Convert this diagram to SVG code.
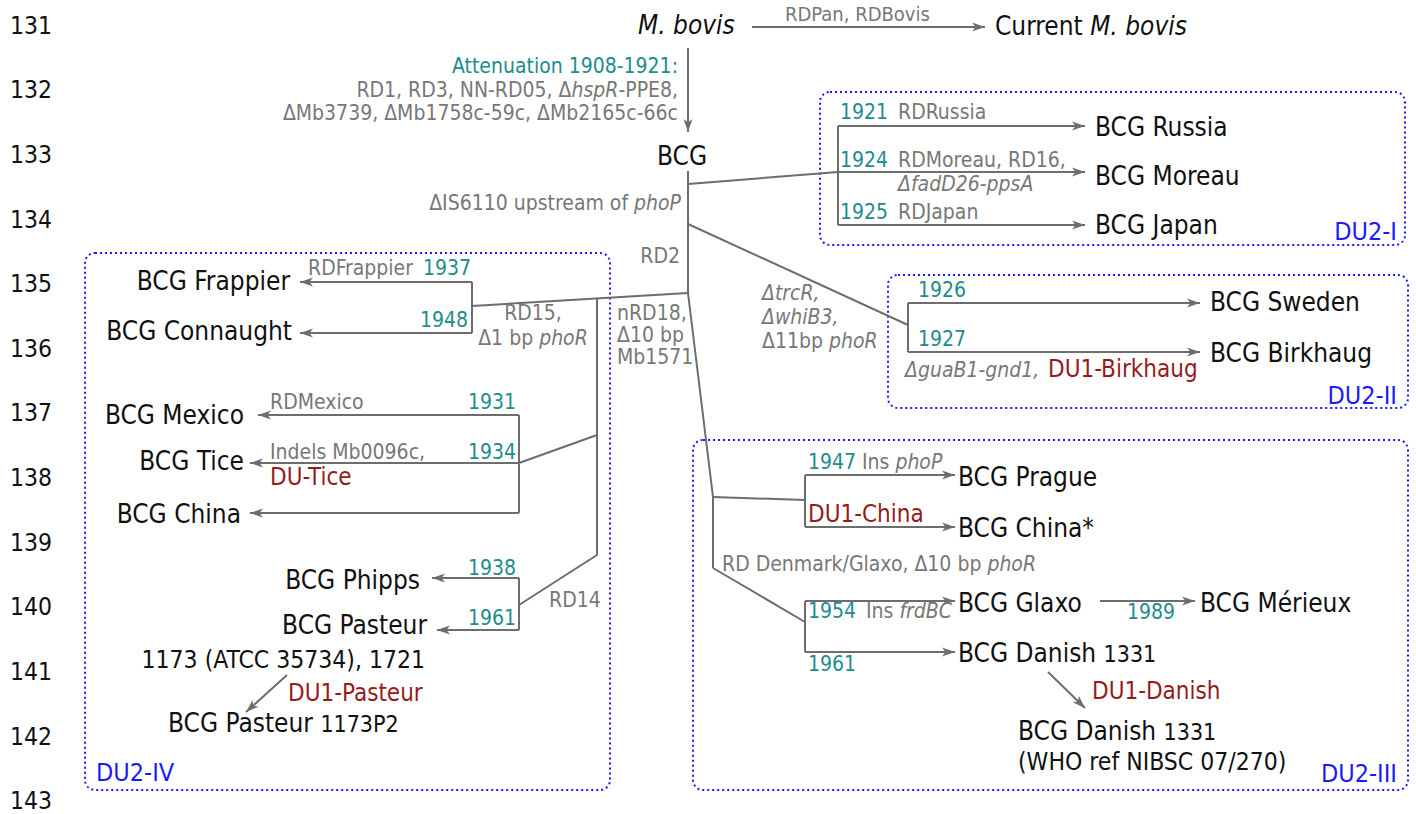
<svg xmlns="http://www.w3.org/2000/svg" width="1416" height="814" viewBox="0 0 1416 814">
<defs>
<marker id="ah" markerUnits="userSpaceOnUse" markerWidth="14" markerHeight="10" refX="13" refY="5" orient="auto">
<path d="M0,0.5 L13,5 L0,9.5 L3.5,5 z" fill="#6d6d6d"/>
</marker>
<style>
text{font-family:'DejaVu Sans Condensed','DejaVu Sans',sans-serif}
.n{font-size:26px;fill:#111}
.s{font-size:24.5px;fill:#111}
.sm{font-size:23px}
.g{font-size:21px;fill:#777}
.t{font-size:21px;fill:#208c8c}
.r{font-size:24px;fill:#951b1b}
.b{font-size:25px;fill:#1a1aff}
.ln{font-family:'Liberation Sans',Arial,sans-serif;font-size:24.5px;fill:#111}
.e{text-anchor:end}
.m{text-anchor:middle}
.i{font-style:italic}
.c path{fill:none;stroke:#6d6d6d;stroke-width:2}
.a{marker-end:url(#ah)}
.box{fill:none;stroke:#1a1aff;stroke-width:2;stroke-dasharray:2 3}
</style>
</defs>
<rect width="1416" height="814" fill="#fff"/>
<g id="line-numbers" class="ln">
<text x="10" y="34">131</text><text x="10" y="98">132</text><text x="10" y="163">133</text><text x="10" y="228">134</text><text x="10" y="292">135</text><text x="10" y="357">136</text><text x="10" y="421">137</text><text x="10" y="486">138</text><text x="10" y="551">139</text><text x="10" y="615">140</text><text x="10" y="680">141</text><text x="10" y="745">142</text><text x="10" y="809">143</text>
</g>
<g id="groups">
<rect id="DU2-I" class="box" x="820" y="92" width="585" height="153" rx="10"/>
<rect id="DU2-II" class="box" x="888" y="275" width="520" height="133" rx="10"/>
<rect id="DU2-III" class="box" x="693" y="440" width="715" height="350" rx="10"/>
<rect id="DU2-IV" class="box" x="85" y="253" width="525" height="537" rx="10"/>
<text class="b e" x="1397" y="240">DU2-I</text>
<text class="b e" x="1397" y="404">DU2-II</text>
<text class="b e" x="1397" y="782">DU2-III</text>
<text class="b" x="96" y="781">DU2-IV</text>
</g>
<g id="connectors" class="c">
<path class="a" d="M752,27 H985"/>
<path class="a" d="M688,48 V132"/>
<path d="M688,171 V293 L713,497 V568"/>
<path d="M688,184 L838,172"/>
<path d="M838,126 V225"/>
<path class="a" d="M838,126 H1085"/>
<path class="a" d="M838,172 H1085"/>
<path class="a" d="M838,225 H1085"/>
<path d="M688,224 L908,325"/>
<path d="M908,303 V352"/>
<path class="a" d="M908,303 H1200"/>
<path class="a" d="M908,352 H1200"/>
<path d="M688,293 L472,306"/>
<path d="M472,282 V333"/>
<path class="a" d="M472,282 H300"/>
<path class="a" d="M472,333 H300"/>
<path d="M597,298 V555"/>
<path d="M597,435 L519,463"/>
<path d="M519,415 V513"/>
<path class="a" d="M519,415 H258"/>
<path class="a" d="M519,463 H250"/>
<path class="a" d="M519,513 H250"/>
<path d="M597,555 L519,605"/>
<path d="M519,578 V630"/>
<path class="a" d="M519,578 H432"/>
<path class="a" d="M519,630 H437"/>
<path class="a" d="M287,675 L246,712"/>
<path d="M713,497 L805,500"/>
<path d="M805,475 V527"/>
<path class="a" d="M805,475 H955"/>
<path class="a" d="M805,527 H955"/>
<path d="M713,568 L805,622"/>
<path d="M805,601 V652"/>
<path class="a" d="M805,601 H955"/>
<path class="a" d="M805,652 H955"/>
<path class="a" d="M1100,601 H1195"/>
<path class="a" d="M1048,672 L1085,708"/>
</g>
<g id="labels">
<text class="g" x="785" y="21" style="font-size:20px">RDPan, RDBovis</text>
<text class="t e" x="678" y="73">Attenuation 1908-1921:</text>
<text class="g e" x="678" y="97">RD1, RD3, NN-RD05, Δ<tspan class="i">hspR</tspan>-PPE8,</text>
<text class="g e" x="678" y="120">ΔMb3739, ΔMb1758c-59c, ΔMb2165c-66c</text>
<text class="g e" x="681" y="210">ΔIS6110 upstream of <tspan class="i">phoP</tspan></text>
<text class="g e" x="680" y="263">RD2</text>
<text class="t" x="840" y="119">1921</text><text class="g" x="898" y="119">RDRussia</text>
<text class="t" x="840" y="167">1924</text><text class="g" x="898" y="167">RDMoreau, RD16,</text>
<text class="g i" x="898" y="191">ΔfadD26-ppsA</text>
<text class="t" x="840" y="219">1925</text><text class="g" x="898" y="219">RDJapan</text>
<text class="g i" x="762" y="300">ΔtrcR,</text>
<text class="g i" x="762" y="324">ΔwhiB3,</text>
<text class="g" x="762" y="348">Δ11bp <tspan class="i">phoR</tspan></text>
<text class="t" x="918" y="297">1926</text>
<text class="t" x="918" y="346">1927</text>
<text class="g i" x="905" y="377">ΔguaB1-gnd1,</text>
<text class="r" x="1048" y="377">DU1-Birkhaug</text>
<text class="g" x="308" y="275">RDFrappier</text><text class="t e" x="471" y="275">1937</text>
<text class="t e" x="468" y="327">1948</text>
<text class="g m" x="533" y="320">RD15,</text>
<text class="g m" x="533" y="345">Δ1 bp <tspan class="i">phoR</tspan></text>
<text class="g" x="617" y="320">nRD18,</text>
<text class="g" x="617" y="342">Δ10 bp</text>
<text class="g" x="617" y="364">Mb1571</text>
<text class="g" x="270" y="409">RDMexico</text><text class="t e" x="516" y="409">1931</text>
<text class="g" x="270" y="459">Indels Mb0096c,</text><text class="t e" x="516" y="459">1934</text>
<text class="r" x="270" y="485">DU-Tice</text>
<text class="t e" x="516" y="575">1938</text>
<text class="t e" x="516" y="625">1961</text>
<text class="g" x="549" y="607">RD14</text>
<text class="r" x="288" y="701">DU1-Pasteur</text>
<text class="t" x="808" y="469">1947</text><text class="g" x="862" y="469">Ins <tspan class="i">phoP</tspan></text>
<text class="r" x="808" y="522">DU1-China</text>
<text class="g" x="722" y="571">RD Denmark/Glaxo, Δ10 bp <tspan class="i">phoR</tspan></text>
<text class="t" x="808" y="618">1954</text><text class="g" x="866" y="618">Ins <tspan class="i">frdBC</tspan></text>
<text class="t" x="1127" y="619">1989</text>
<text class="t" x="808" y="671">1961</text>
<text class="r" x="1092" y="699">DU1-Danish</text>
</g>
<g id="n-mbovis"><text class="n i" x="638" y="34">M. bovis</text></g>
<g id="n-current"><text class="n" x="995" y="35">Current <tspan class="i">M. bovis</tspan></text></g>
<g id="n-bcg"><text class="n" x="657" y="165">BCG</text></g>
<g id="n-russia"><text class="n" x="1095" y="136">BCG Russia</text></g>
<g id="n-moreau"><text class="n" x="1095" y="185">BCG Moreau</text></g>
<g id="n-japan"><text class="n" x="1095" y="234">BCG Japan</text></g>
<g id="n-sweden"><text class="n" x="1210" y="311">BCG Sweden</text></g>
<g id="n-birkhaug"><text class="n" x="1210" y="362">BCG Birkhaug</text></g>
<g id="n-frappier"><text class="n e" x="290" y="290">BCG Frappier</text></g>
<g id="n-connaught"><text class="n e" x="292" y="340">BCG Connaught</text></g>
<g id="n-mexico"><text class="n e" x="244" y="424">BCG Mexico</text></g>
<g id="n-tice"><text class="n e" x="244" y="470">BCG Tice</text></g>
<g id="n-china"><text class="n e" x="241" y="523">BCG China</text></g>
<g id="n-phipps"><text class="n e" x="420" y="589">BCG Phipps</text></g>
<g id="n-pasteur"><text class="n e" x="427" y="634">BCG Pasteur</text><text class="s e" x="425" y="668">1173 (ATCC 35734), 1721</text></g>
<g id="n-pasteur1173p2"><text class="n" x="168" y="732">BCG Pasteur <tspan class="sm">1173P2</tspan></text></g>
<g id="n-prague"><text class="n" x="958" y="486">BCG Prague</text></g>
<g id="n-china-star"><text class="n" x="958" y="537">BCG China*</text></g>
<g id="n-glaxo"><text class="n" x="958" y="612">BCG Glaxo</text></g>
<g id="n-merieux"><text class="n" x="1200" y="612">BCG Mérieux</text></g>
<g id="n-danish"><text class="n" x="958" y="662">BCG Danish <tspan class="sm">1331</tspan></text></g>
<g id="n-danish-who"><text class="n" x="1018" y="740">BCG Danish <tspan class="sm">1331</tspan></text><text class="s" x="1018" y="770">(WHO ref NIBSC 07/270)</text></g>
</svg>
